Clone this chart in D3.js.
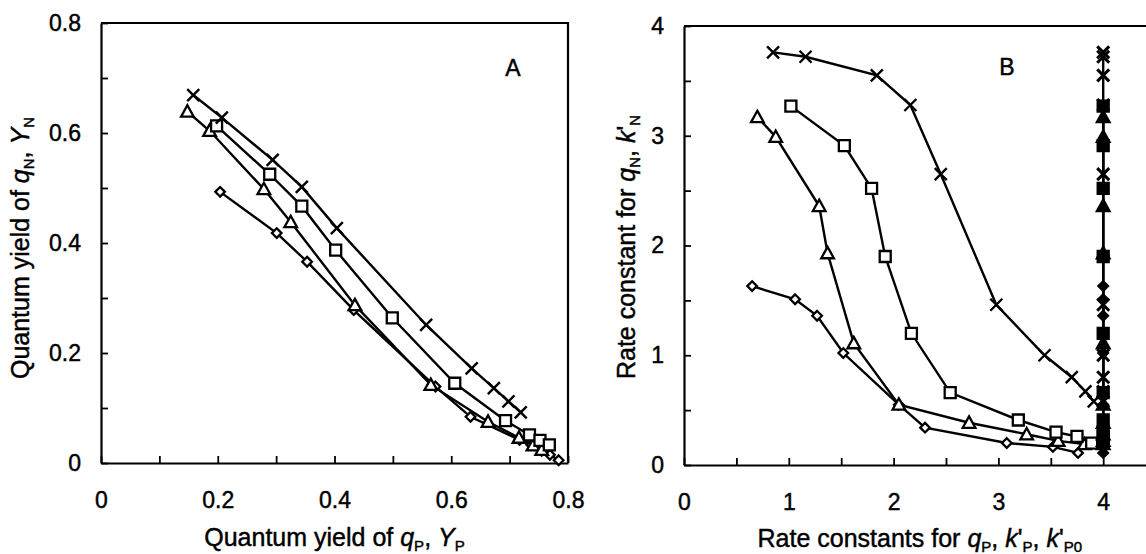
<!DOCTYPE html>
<html>
<head>
<meta charset="utf-8">
<script src="https://cdn.jsdelivr.net/npm/d3@7"></script>
<style>
  body { margin: 0; background: #fff; }
  svg { display: block; }
  text { font-family: 'Liberation Sans', Arial, Helvetica, sans-serif; fill: #000; stroke: #000; stroke-width: 0.45px; }
</style>
</head>
<body>
<div id="chart"></div>
<script>
// Panel A: quantum yield of qN vs quantum yield of qP
const aCrossX   = [0.158, 0.207, 0.294, 0.344, 0.404, 0.557, 0.635, 0.673, 0.698, 0.719];
const aCrossY   = [0.669, 0.628, 0.551, 0.502, 0.427, 0.251, 0.172, 0.136, 0.112, 0.092];
const aSquareX  = [0.198, 0.289, 0.344, 0.402, 0.499, 0.606, 0.693, 0.734, 0.752, 0.768];
const aSquareY  = [0.613, 0.525, 0.467, 0.387, 0.264, 0.145, 0.077, 0.051, 0.041, 0.033];
const aTriX     = [0.148, 0.186, 0.279, 0.325, 0.435, 0.565, 0.663, 0.716, 0.740, 0.755];
const aTriY     = [0.639, 0.604, 0.498, 0.438, 0.287, 0.142, 0.075, 0.046, 0.032, 0.024];
const aDiamondX = [0.204, 0.301, 0.353, 0.433, 0.573, 0.633, 0.717, 0.737, 0.755, 0.769, 0.784];
const aDiamondY = [0.493, 0.418, 0.366, 0.278, 0.139, 0.084, 0.042, 0.033, 0.022, 0.015, 0.005];

// Panel B: rate constant for qN vs rate constants for qP
const bCrossX   = [0.85, 1.16, 1.84, 2.16, 2.45, 2.98, 3.44, 3.70, 3.83, 3.91];
const bCrossY   = [3.76, 3.72, 3.55, 3.28, 2.65, 1.46, 1.00, 0.80, 0.67, 0.58];
const bSquareX  = [1.02, 1.53, 1.79, 1.92, 2.17, 2.54, 3.19, 3.55, 3.75, 3.89];
const bSquareY  = [3.27, 2.91, 2.52, 1.90, 1.20, 0.66, 0.41, 0.30, 0.26, 0.20];
const bTriX     = [0.70, 0.875, 1.29, 1.37, 1.62, 2.05, 2.72, 3.27, 3.57, 3.82];
const bTriY     = [3.17, 2.99, 2.36, 1.93, 1.11, 0.55, 0.385, 0.28, 0.22, 0.19];
const bDiamondX = [0.65, 1.06, 1.27, 1.52, 2.05, 2.30, 3.08, 3.52, 3.76];
const bDiamondY = [1.63, 1.51, 1.36, 1.02, 0.55, 0.34, 0.20, 0.165, 0.11];
// k'P0 is the same for every point (filled markers)
const bKP0 = 4;

// Tick values
const aMajorTicks = [0, 0.2, 0.4, 0.6, 0.8];
const aMinorTicks = [0.1, 0.3, 0.5, 0.7];
const bMajorTicks = [0, 1, 2, 3, 4];
const bMinorTicks = [0.5, 1.5, 2.5, 3.5];

const width = 1146, height = 554;

const svg = d3.select("#chart")
    .append("svg")
    .attr("width", width)
    .attr("height", height);

// Scales
const xA = d3.scaleLinear().domain([0, 0.8]).range([101, 568]);
const yA = d3.scaleLinear().domain([0, 0.8]).range([463, 23]);
const xB = d3.scaleLinear().domain([0, 4.5]).range([684, 1155.6]);
const yB = d3.scaleLinear().domain([0, 4]).range([465, 26]);

const fmt = d => String(d);

// Axis helper: inward ticks, labels only on major ticks
function drawAxes(x, y, major, minorX, majorY, minorY) {
    const xAxis = d3.axisBottom(x)
        .tickValues(major.concat(minorX))
        .tickFormat(d => major.includes(d) ? fmt(d) : "")
        .tickSizeInner(-7)
        .tickSizeOuter(0)
        .tickPadding(29);
    const yAxis = d3.axisLeft(y)
        .tickValues(majorY.concat(minorY))
        .tickFormat(d => majorY.includes(d) ? fmt(d) : "")
        .tickSizeInner(-7)
        .tickSizeOuter(0)
        .tickPadding(20);

    const gx = svg.append("g")
        .attr("transform", `translate(0,${y.range()[0]})`)
        .call(xAxis);
    const gy = svg.append("g")
        .attr("transform", `translate(${x.range()[0]},0)`)
        .call(yAxis);

    [gx, gy].forEach(g => {
        g.select(".domain").attr("stroke", "#000").attr("stroke-width", 2.2);
        g.selectAll(".tick line").attr("stroke", "#000").attr("stroke-width", 1.8);
        g.selectAll(".tick text")
            .style("font-size", "23px")
            .style("font-family", "'Liberation Sans', Arial, sans-serif")
            .attr("fill", "#000");
    });
}

drawAxes(xA, yA, aMajorTicks, aMinorTicks, aMajorTicks, aMinorTicks);
drawAxes(xB, yB, bMajorTicks, bMinorTicks, bMajorTicks, bMinorTicks);

// Frame lines: full box for A, top line for B (its right edge is cut off)
svg.append("path")
    .attr("d", `M${xA(0)},${yA(0.8)}H${xA(0.8)}V${yA(0)}`)
    .attr("fill", "none").attr("stroke", "#000").attr("stroke-width", 2.2);
svg.append("line")
    .attr("x1", xB(0)).attr("x2", width)
    .attr("y1", yB(4)).attr("y2", yB(4))
    .attr("stroke", "#000").attr("stroke-width", 2.2);

// Marker shapes
function markerPath(type, s) {
    const p = d3.path();
    if (type === "square") {
        p.rect(-s, -s, 2 * s, 2 * s);
    } else if (type === "triangle") {
        const h = s * 1.15;
        p.moveTo(0, -h); p.lineTo(h, h * 0.8); p.lineTo(-h, h * 0.8); p.closePath();
    } else if (type === "diamond") {
        p.moveTo(0, -s); p.lineTo(s, 0); p.lineTo(0, s); p.lineTo(-s, 0); p.closePath();
    } else if (type === "cross") {
        p.moveTo(-s, -s); p.lineTo(s, s); p.moveTo(s, -s); p.lineTo(-s, s);
    }
    return p.toString();
}

const sizes = {cross: 6, square: 5.5, triangle: 5.5, diamond: 4.8};

function drawSeries(xs, ys, x, y, type, filled) {
    const pts = xs.map((d, i) => [d, ys[i]]);
    const line = d3.line().x(d => x(d[0])).y(d => y(d[1]));
    svg.append("path")
        .datum(pts)
        .attr("d", line)
        .attr("fill", "none")
        .attr("stroke", "#000")
        .attr("stroke-width", 2.4);
    svg.append("g")
        .selectAll("path")
        .data(pts)
        .join("path")
        .attr("transform", d => `translate(${x(d[0])},${y(d[1])})`)
        .attr("d", markerPath(type, sizes[type]))
        .attr("fill", type === "cross" ? "none" : (filled ? "#000" : "#fff"))
        .attr("stroke", "#000")
        .attr("stroke-width", type === "cross" ? (filled ? 3 : 2.4) : 2.3);
}

// Panel A
drawSeries(aDiamondX, aDiamondY, xA, yA, "diamond", false);
drawSeries(aTriX, aTriY, xA, yA, "triangle", false);
drawSeries(aSquareX, aSquareY, xA, yA, "square", false);
drawSeries(aCrossX, aCrossY, xA, yA, "cross", false);

// Panel B open series
drawSeries(bDiamondX, bDiamondY, xB, yB, "diamond", false);
drawSeries(bTriX, bTriY, xB, yB, "triangle", false);
drawSeries(bSquareX, bSquareY, xB, yB, "square", false);
drawSeries(bCrossX, bCrossY, xB, yB, "cross", false);

// Panel B filled series at k'P0
const kp0 = arr => arr.map(() => bKP0);
drawSeries(kp0(bDiamondY), bDiamondY, xB, yB, "diamond", true);
drawSeries(kp0(bTriY), bTriY, xB, yB, "triangle", true);
drawSeries(kp0(bSquareY), bSquareY, xB, yB, "square", true);
drawSeries(kp0(bCrossY), bCrossY, xB, yB, "cross", true);

// Rich text with italics and subscripts
function richText(g, parts) {
    let prevSub = false;
    parts.forEach(p => {
        const t = g.append("tspan").text(p.t);
        if (p.i) t.style("font-style", "italic");
        if (p.sub) {
            t.style("font-size", "15px");
            if (!prevSub) t.attr("dy", 5);
        } else if (prevSub) {
            t.attr("dy", -5);
        }
        prevSub = !!p.sub;
    });
}

// Axis titles
const tA = svg.append("text")
    .attr("x", (xA(0) + xA(0.8)) / 2).attr("y", 546)
    .attr("text-anchor", "middle").style("font-size", "25px");
richText(tA, [{t: "Quantum yield of "}, {t: "q", i: true}, {t: "P", sub: true},
    {t: ", "}, {t: "Y", i: true}, {t: "P", sub: true}]);

const tAy = svg.append("text")
    .attr("transform", "translate(29,248) rotate(-90)")
    .attr("text-anchor", "middle").style("font-size", "25px");
richText(tAy, [{t: "Quantum yield of "}, {t: "q", i: true}, {t: "N", sub: true},
    {t: ", "}, {t: "Y", i: true}, {t: "N", sub: true}]);

const tB = svg.append("text")
    .attr("x", (xB(0) + xB(4.5)) / 2).attr("y", 547)
    .attr("text-anchor", "middle").style("font-size", "25px");
richText(tB, [{t: "Rate constants for "}, {t: "q", i: true}, {t: "P", sub: true},
    {t: ", "}, {t: "k", i: true}, {t: "'"}, {t: "P", sub: true},
    {t: ", "}, {t: "k", i: true}, {t: "'"}, {t: "P0", sub: true}]);

const tBy = svg.append("text")
    .attr("transform", "translate(635,247) rotate(-90)")
    .attr("text-anchor", "middle").style("font-size", "25px");
richText(tBy, [{t: "Rate constant for "}, {t: "q", i: true}, {t: "N", sub: true},
    {t: ", "}, {t: "k", i: true}, {t: "'"}, {t: "N", sub: true}]);

// Panel letters
svg.append("text").attr("x", 513).attr("y", 76).attr("text-anchor", "middle")
    .style("font-size", "23px").text("A");
svg.append("text").attr("x", 1007).attr("y", 75).attr("text-anchor", "middle")
    .style("font-size", "23px").text("B");
</script>
</body>
</html>
